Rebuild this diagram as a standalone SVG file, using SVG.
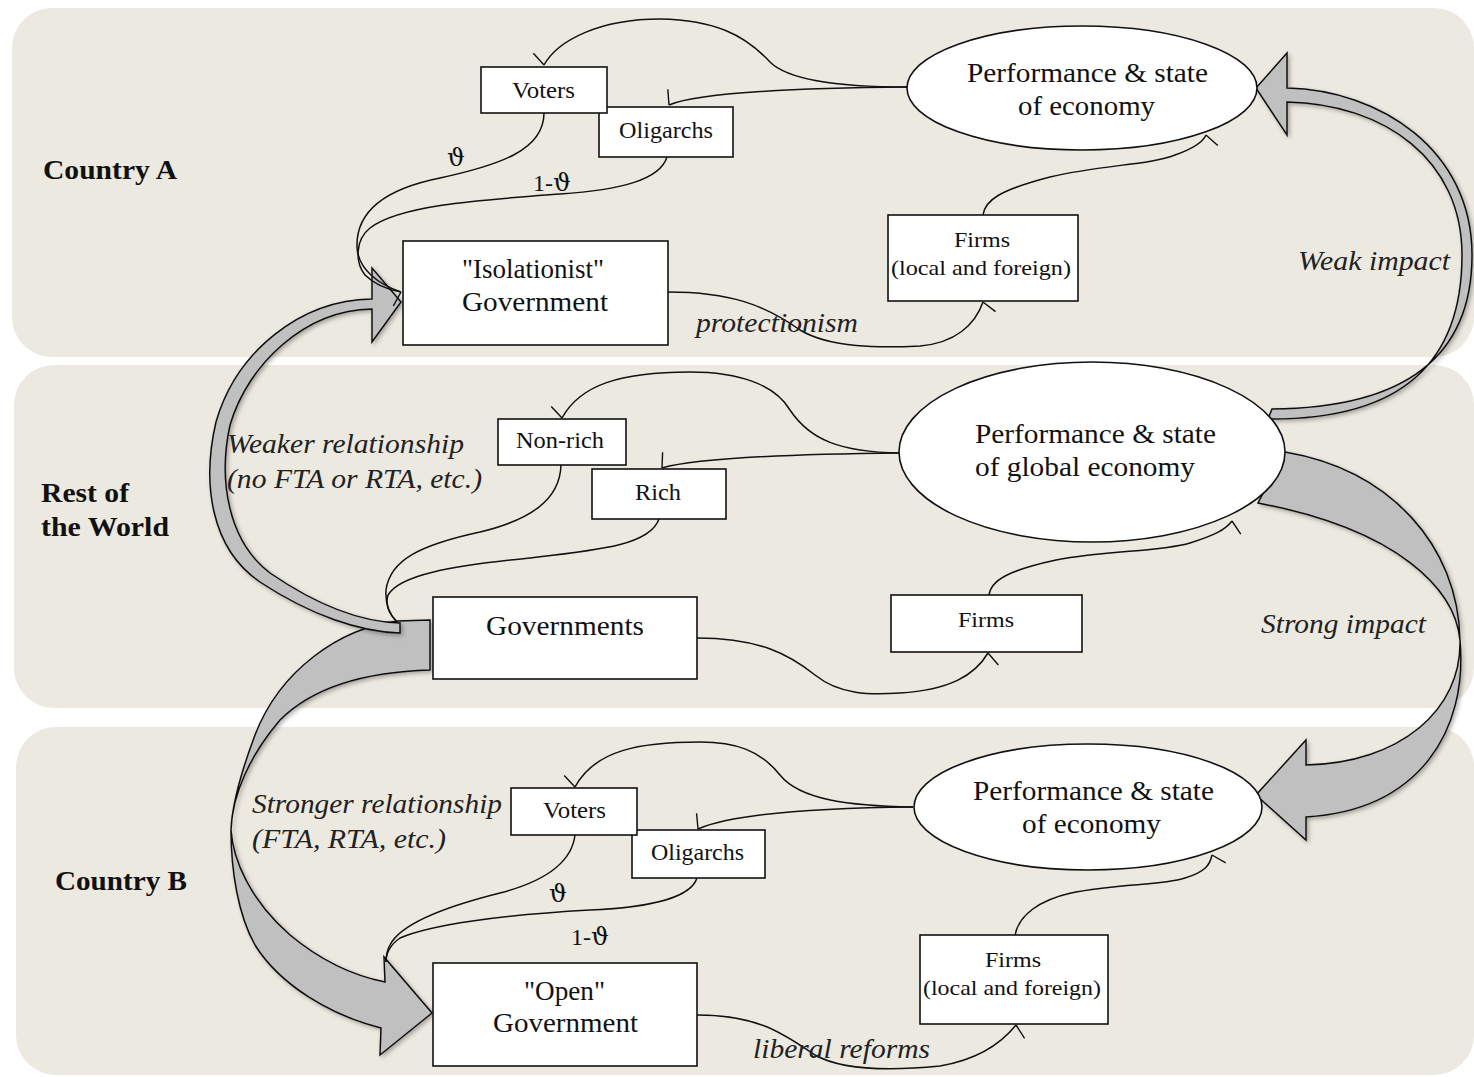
<svg xmlns="http://www.w3.org/2000/svg" width="1474" height="1077" viewBox="0 0 1474 1077">
<defs>
<style>
.panel{fill:#ECE9E0;stroke:none}
.box{fill:#FFFFFF;stroke:#111;stroke-width:1.6}
.ell{fill:#FFFFFF;stroke:#111;stroke-width:1.6}
.ln{fill:none;stroke:#111;stroke-width:1.5}
.big{fill:#C0C0C0;stroke:#111;stroke-width:1.5;stroke-linejoin:miter;filter:url(#sh)}
.t{font-family:'Liberation Serif','Times New Roman',Times,serif;fill:#111}
.b{font-family:'Liberation Serif','Times New Roman',Times,serif;font-weight:bold;fill:#111;font-size:28px}
.i{font-family:'Liberation Serif','Times New Roman',Times,serif;font-style:italic;fill:#222;font-size:27px}
.g{font-family:'DejaVu Serif',serif;fill:#111}
</style>
<marker id="tick" markerUnits="userSpaceOnUse" orient="auto" markerWidth="24" markerHeight="24" refX="0" refY="0" overflow="visible">
<path d="M0,0 L-5,15" fill="none" stroke="#111" stroke-width="1.4"/>
</marker>
<filter id="sh" x="-20%" y="-20%" width="140%" height="140%">
<feDropShadow dx="2" dy="2" stdDeviation="2" flood-color="#000" flood-opacity="0.3"/>
</filter>
</defs>
<rect width="1474" height="1077" fill="#FFFFFF"/>
<g id="panels">
<rect class="panel" x="12" y="8" width="1462" height="349" rx="40" ry="40"/>
<rect class="panel" x="14" y="365" width="1460" height="343" rx="40" ry="40"/>
<rect class="panel" x="16" y="727" width="1458" height="348" rx="40" ry="40"/>
</g>
<g id="region-labels">
<text class="b" x="43" y="179" textLength="134" lengthAdjust="spacingAndGlyphs">Country A</text>
<text class="b" x="41" y="502" textLength="88" lengthAdjust="spacingAndGlyphs">Rest of</text>
<text class="b" x="41" y="536" textLength="128" lengthAdjust="spacingAndGlyphs">the World</text>
<text class="b" x="55" y="890" textLength="132" lengthAdjust="spacingAndGlyphs">Country B</text>
</g>
<g id="connectors">
<path class="big" d="M1287,88 C1380,90 1472,150 1472,255 C1472,360 1400,408 1272,409 L1268,419 C1405,420 1462,360 1462,255 C1462,160 1385,104 1287,102 L1287,135 L1256,88 L1287,53 Z"/>
<path class="big" d="M1285,452 C1390,470 1458,545 1460,640 C1462,710 1400,763 1306,765 L1306,740 L1256,795 L1306,840 L1306,817 C1420,810 1468,730 1460,640 C1455,590 1400,530 1258,503 Z"/>
<path class="big" d="M430,620 L398,621 C340,628 280,670 255,735 C240,775 232,805 231,830 C233,860 250,900 290,935 C320,960 350,975 385,982 L384,957 L432,1013 L380,1055 L381,1028 C330,1015 280,985 255,945 C238,915 231,870 231,830 C232,795 250,755 280,720 C310,690 360,672 430,670 Z"/>
<path class="big" d="M372,309 L372,342 L401,302 L372,268 L372,299 C300,300 236,352 216,422 C202,482 210,548 260,582 C310,615 360,632 400,633 L400,623 C362,622 318,606 270,573 C228,541 218,480 230,425 C248,364 305,310 372,309 Z"/>
<path class="ln" marker-end="url(#tick)" d="M907,87 C850,87 790,82 770,62 C745,35 715,20 660,19 C600,19 558,40 544,65"/>
<path class="ln" marker-end="url(#tick)" d="M907,87 C800,88 700,92 669,105"/>
<path class="ln" d="M544,113 C544,150 500,165 440,178 C380,190 356,215 357,247 C358,270 380,285 401,292"/>
<path class="ln" marker-end="url(#tick)" d="M667,157 C660,180 620,190 560,194 C480,200 400,205 370,228 C355,240 355,262 365,275 C375,285 390,290 401,292"/>
<path class="ln" marker-end="url(#tick)" d="M668,292 C730,292 765,305 800,330 C830,348 880,348 920,346 C955,343 975,325 983,302"/>
<path class="ln" marker-end="url(#tick)" d="M983,215 C985,200 1000,190 1050,177 C1100,165 1150,165 1175,155 C1195,148 1203,142 1206,135"/>
<path class="ln" marker-end="url(#tick)" d="M900,453 C840,452 810,440 790,410 C775,385 740,372 690,372 C620,372 580,385 562,418"/>
<path class="ln" marker-end="url(#tick)" d="M900,453 C800,454 700,457 662,468"/>
<path class="ln" d="M561,465 C560,500 530,520 480,532 C420,545 390,560 386,590 C385,605 390,615 397,622"/>
<path class="ln" d="M659,519 C650,545 600,550 530,558 C450,566 400,575 388,595 C385,605 390,615 397,622"/>
<path class="ln" marker-end="url(#tick)" d="M697,638 C760,638 790,655 815,675 C840,695 870,695 900,693 C950,690 975,675 988,653"/>
<path class="ln" marker-end="url(#tick)" d="M989,596 C990,580 1010,570 1056,560 C1110,550 1160,552 1190,543 C1215,535 1225,530 1232,521"/>
<path class="ln" marker-end="url(#tick)" d="M913,807 C850,806 800,800 780,775 C760,750 735,742 700,742 C640,742 595,750 575,787"/>
<path class="ln" marker-end="url(#tick)" d="M913,807 C810,808 730,815 698,829"/>
<path class="ln" d="M575,835 C572,860 550,880 500,893 C440,908 400,925 390,945 C386,952 386,958 386,962"/>
<path class="ln" d="M697,878 C690,900 640,908 590,910 C500,915 430,925 400,938 C390,945 386,952 386,962"/>
<path class="ln" marker-end="url(#tick)" d="M697,1015 C760,1015 785,1035 815,1055 C845,1072 900,1070 940,1066 C975,1060 1000,1045 1016,1025"/>
<path class="ln" marker-end="url(#tick)" d="M1015,936 C1018,915 1040,900 1071,893 C1120,883 1160,886 1185,878 C1205,872 1210,865 1212,855"/>
</g>
<g id="connector-labels">
<text class="g" x="447" y="166" font-size="25">ϑ</text>
<text class="t" x="533" y="191" font-size="24">1-<tspan class="g" font-size="25">ϑ</tspan></text>
<text class="i" x="696" y="332" textLength="162" lengthAdjust="spacingAndGlyphs">protectionism</text>
<text class="i" x="1298" y="270" textLength="152" lengthAdjust="spacingAndGlyphs">Weak impact</text>
<text class="i" x="227" y="453" textLength="237" lengthAdjust="spacingAndGlyphs">Weaker relationship</text>
<text class="i" x="227" y="488" textLength="255" lengthAdjust="spacingAndGlyphs">(no FTA or RTA, etc.)</text>
<text class="i" x="1261" y="633" textLength="165" lengthAdjust="spacingAndGlyphs">Strong impact</text>
<text class="i" x="252" y="813" textLength="250" lengthAdjust="spacingAndGlyphs">Stronger relationship</text>
<text class="i" x="252" y="848" textLength="194" lengthAdjust="spacingAndGlyphs">(FTA, RTA, etc.)</text>
<text class="g" x="549" y="902" font-size="25">ϑ</text>
<text class="t" x="571" y="945" font-size="24">1-<tspan class="g" font-size="25">ϑ</tspan></text>
<text class="i" x="753" y="1058" textLength="177" lengthAdjust="spacingAndGlyphs">liberal reforms</text>
</g>
<g id="node-a-oligarchs">
<rect class="box" x="599" y="107" width="134" height="50"/>
<text class="t" x="619" y="138" font-size="24" textLength="94" lengthAdjust="spacingAndGlyphs">Oligarchs</text>
</g>
<g id="node-a-voters">
<rect class="box" x="481" y="67" width="126" height="46"/>
<text class="t" x="512" y="98" font-size="24" textLength="63" lengthAdjust="spacingAndGlyphs">Voters</text>
</g>
<g id="node-a-economy">
<ellipse class="ell" cx="1082" cy="88" rx="175" ry="62"/>
<text class="t" x="967" y="82" font-size="27" textLength="241" lengthAdjust="spacingAndGlyphs">Performance &amp; state</text>
<text class="t" x="1018" y="115" font-size="27" textLength="137" lengthAdjust="spacingAndGlyphs">of economy</text>
</g>
<g id="node-a-government">
<rect class="box" x="403" y="241" width="265" height="104"/>
<text class="t" x="462" y="278" font-size="27" textLength="142" lengthAdjust="spacingAndGlyphs">"Isolationist"</text>
<text class="t" x="462" y="311" font-size="28" textLength="146" lengthAdjust="spacingAndGlyphs">Government</text>
</g>
<g id="node-a-firms">
<rect class="box" x="888" y="215" width="190" height="86"/>
<text class="t" x="954" y="247" font-size="21" textLength="56" lengthAdjust="spacingAndGlyphs">Firms</text>
<text class="t" x="891" y="275" font-size="21" textLength="180" lengthAdjust="spacingAndGlyphs">(local and foreign)</text>
</g>
<g id="node-row-nonrich">
<rect class="box" x="498" y="419" width="128" height="46"/>
<text class="t" x="516" y="448" font-size="23" textLength="88" lengthAdjust="spacingAndGlyphs">Non-rich</text>
</g>
<g id="node-row-rich">
<rect class="box" x="592" y="469" width="134" height="50"/>
<text class="t" x="635" y="500" font-size="23" textLength="46" lengthAdjust="spacingAndGlyphs">Rich</text>
</g>
<g id="node-row-economy">
<ellipse class="ell" cx="1092" cy="452" rx="193" ry="90"/>
<text class="t" x="975" y="443" font-size="27" textLength="241" lengthAdjust="spacingAndGlyphs">Performance &amp; state</text>
<text class="t" x="975" y="476" font-size="27" textLength="220" lengthAdjust="spacingAndGlyphs">of global economy</text>
</g>
<g id="node-row-governments">
<rect class="box" x="433" y="597" width="264" height="82"/>
<text class="t" x="486" y="635" font-size="28" textLength="158" lengthAdjust="spacingAndGlyphs">Governments</text>
</g>
<g id="node-row-firms">
<rect class="box" x="891" y="595" width="191" height="57"/>
<text class="t" x="958" y="627" font-size="21" textLength="56" lengthAdjust="spacingAndGlyphs">Firms</text>
</g>
<g id="node-b-oligarchs">
<rect class="box" x="632" y="830" width="133" height="48"/>
<text class="t" x="651" y="860" font-size="24" textLength="93" lengthAdjust="spacingAndGlyphs">Oligarchs</text>
</g>
<g id="node-b-voters">
<rect class="box" x="511" y="788" width="126" height="47"/>
<text class="t" x="543" y="818" font-size="24" textLength="63" lengthAdjust="spacingAndGlyphs">Voters</text>
</g>
<g id="node-b-economy">
<ellipse class="ell" cx="1088" cy="807" rx="174" ry="63"/>
<text class="t" x="973" y="800" font-size="27" textLength="241" lengthAdjust="spacingAndGlyphs">Performance &amp; state</text>
<text class="t" x="1022" y="833" font-size="27" textLength="139" lengthAdjust="spacingAndGlyphs">of economy</text>
</g>
<g id="node-b-government">
<rect class="box" x="433" y="963" width="264" height="103"/>
<text class="t" x="524" y="1000" font-size="27" textLength="81" lengthAdjust="spacingAndGlyphs">"Open"</text>
<text class="t" x="493" y="1032" font-size="28" textLength="145" lengthAdjust="spacingAndGlyphs">Government</text>
</g>
<g id="node-b-firms">
<rect class="box" x="920" y="935" width="188" height="89"/>
<text class="t" x="985" y="967" font-size="21" textLength="56" lengthAdjust="spacingAndGlyphs">Firms</text>
<text class="t" x="923" y="995" font-size="21" textLength="178" lengthAdjust="spacingAndGlyphs">(local and foreign)</text>
</g>
</svg>
